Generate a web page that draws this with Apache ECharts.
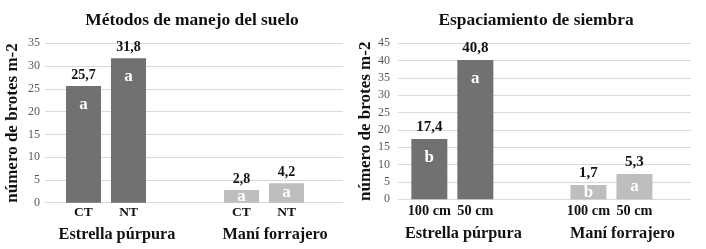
<!DOCTYPE html>
<html>
<head>
<meta charset="utf-8">
<script src="https://cdn.jsdelivr.net/npm/echarts@6/dist/echarts.min.js"></script>
<style>
html,body{margin:0;padding:0;background:#fff;}
#c{width:706px;height:249px;}
</style>
</head>
<body>
<div id="c"></div>
<script>
// ---- data ----
const groups = ['Estrella púrpura', 'Maní forrajero'];
// Chart 1: Métodos de manejo del suelo
const title1 = 'Métodos de manejo del suelo';
const sub1 = ['CT', 'NT'];
const bars1 = [[25.6, 2.8], [31.7, 4.25]];          // bar heights per sub (CT, NT) per group
const vals1 = [['25,7', '2,8'], ['31,8', '4,2']];    // printed values
const lets1 = [['a', 'a'], ['a', 'a']];              // significance letters
// Chart 2: Espaciamiento de siembra
const title2 = 'Espaciamiento de siembra';
const sub2 = ['100 cm', '50 cm'];
const bars2 = [[17.4, 4.1], [40.2, 7.3]];
const vals2 = [['17,4', '1,7'], ['40,8', '5,3']];
const lets2 = [['b', 'b'], ['a', 'a']];
const yTitle = 'número de brotes m-2';
const yMax1 = 35, yMax2 = 45, yStep = 5;

// ---- style ----
const FONT = '"Liberation Serif", "Times New Roman", serif';
const groupColors = ['#717171', '#bebebe'];

const chart = echarts.init(document.getElementById('c'), null, {renderer: 'canvas'});

function makeSeries(xIdx, subs, bars, vals, lets, subDist, letterThreshold, subSize, valSize) {
  const out = [];
  const bw = xIdx === 2 ? 35 : 36;
  const gap = xIdx === 2 ? '28.6%' : '27.8%';
  subs.forEach((s, si) => {
    const stack = 's' + xIdx + '_' + si;
    out.push({
      type: 'bar', xAxisIndex: xIdx, yAxisIndex: xIdx, stack: stack,
      data: groups.map(() => 0),
      barWidth: bw, barGap: gap,
      itemStyle: {color: 'rgba(0,0,0,0)'},
      label: {show: true, position: 'bottom', distance: subDist, formatter: () => s,
        fontFamily: FONT, fontWeight: 'bold', fontSize: subSize, color: '#111'},
      silent: true, animation: false
    });
    out.push({
      type: 'bar', xAxisIndex: xIdx, yAxisIndex: xIdx, stack: stack,
      barWidth: bw, barGap: gap,
      data: bars[si].map((v, gi) => ({
        value: v,
        itemStyle: {color: groupColors[gi]},
        label: v < letterThreshold
          ? {position: 'inside'}
          : {position: 'insideTop', distance: 10}
      })),
      label: {show: true, formatter: (p) => lets[si][p.dataIndex],
        fontFamily: FONT, fontWeight: 'bold', fontSize: 17, color: '#fff'},
      animation: false
    });
    out.push({
      type: 'bar', xAxisIndex: xIdx, yAxisIndex: xIdx, stack: stack,
      barWidth: bw, barGap: gap,
      data: groups.map(() => 0),
      itemStyle: {color: 'rgba(0,0,0,0)'},
      label: {show: true, position: 'top', distance: 4, formatter: (p) => vals[si][p.dataIndex],
        fontFamily: FONT, fontWeight: 'bold', fontSize: valSize, color: '#111'},
      silent: true, animation: false
    });
  });
  return out;
}

function gridAxis(max, margin, nameGap) {
  return {
    type: 'value', min: 0, max: max, interval: yStep,
    axisLine: {show: false}, axisTick: {show: false},
    axisLabel: {fontFamily: FONT, fontSize: 12, color: '#595959', margin: margin},
    splitLine: {lineStyle: {color: '#d9d9d9', width: 1}},
    name: yTitle, nameLocation: 'middle', nameGap: nameGap, nameRotate: 90,
    nameTextStyle: {fontFamily: FONT, fontWeight: 'bold', fontSize: 17, color: '#111'}
  };
}
function hiddenY(max) {
  return {type: 'value', min: 0, max: max, interval: yStep, show: false, splitLine: {show: false}};
}
function catAxis(gi, margin) {
  return {
    type: 'category', gridIndex: gi, data: groups,
    axisLine: {show: false}, axisTick: {show: false},
    axisLabel: {fontFamily: FONT, fontWeight: 'bold', fontSize: 16.3, color: '#111',
      margin: margin, interval: 0, padding: [0, 0, 0, 22]}
  };
}

const option = {
  backgroundColor: '#fff',
  title: [
    {text: title1, left: 187, top: 7, textAlign: 'center',
      textStyle: {fontFamily: FONT, fontWeight: 'bold', fontSize: 17.4, color: '#111'}},
    {text: title2, left: 531, top: 7, textAlign: 'center',
      textStyle: {fontFamily: FONT, fontWeight: 'bold', fontSize: 17.4, color: '#111'}}
  ],
  grid: [
    {left: 45, right: 363, top: 43.3, bottom: 46.3},
    {left: 398, right: 15, top: 43.3, bottom: 49.7},
    {left: 27, width: 316, top: 43.3, bottom: 46.3},
    {left: 372.8, right: 15, top: 43.3, bottom: 49.7}
  ],
  xAxis: [
    {type: 'category', gridIndex: 0, data: groups, show: false},
    {type: 'category', gridIndex: 1, data: groups, show: false},
    catAxis(2, 24),
    catAxis(3, 26)
  ],
  yAxis: [
    Object.assign({gridIndex: 0}, gridAxis(yMax1, 5, 24)),
    Object.assign({gridIndex: 1}, gridAxis(yMax2, 8, 23)),
    Object.assign({gridIndex: 2}, hiddenY(yMax1)),
    Object.assign({gridIndex: 3}, hiddenY(yMax2))
  ],
  series: [].concat(
    makeSeries(2, sub1, bars1, vals1, lets1, 3, 6, 13.5, 14),
    makeSeries(3, sub2, bars2, vals2, lets2, 5, 9, 14.3, 15)
  )
};
chart.setOption(option);
</script>
</body>
</html>
